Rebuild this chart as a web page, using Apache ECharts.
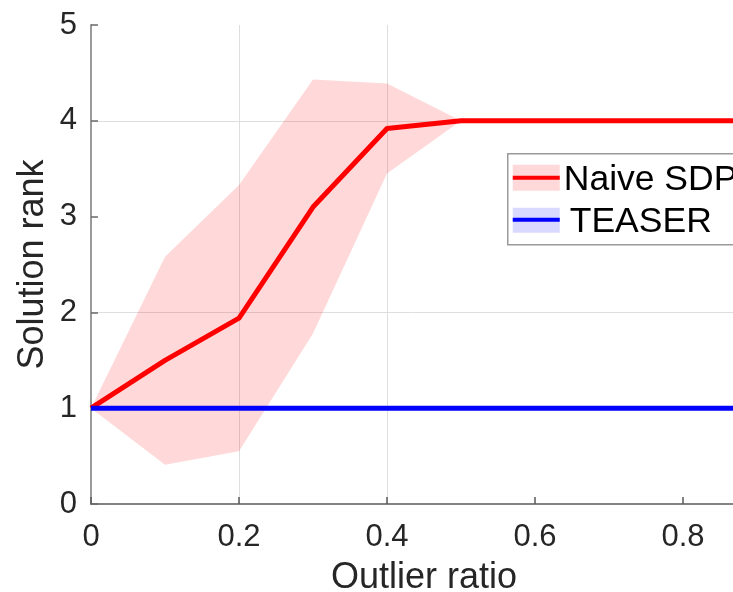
<!DOCTYPE html>
<html>
<head>
<meta charset="utf-8">
<script src="https://cdn.jsdelivr.net/npm/echarts@6/dist/echarts.min.js"></script>
<style>
  html, body { margin: 0; padding: 0; background: #fff; }
  #chart { width: 733px; height: 592px; }
</style>
</head>
<body>
<div id="chart"></div>
<script>
// Outlier ratio sampled every 0.1
const outlierRatios = [0, 0.1, 0.2, 0.3, 0.4, 0.5, 0.6, 0.7, 0.8, 0.9];
// Naive SDP: mean solution rank and its spread
const naiveMean  = [1, 1.5, 1.94, 3.1, 3.92, 4, 4, 4, 4, 4];
const naiveUpper = [1, 2.58, 3.33, 4.43, 4.39, 4, 4, 4, 4, 4];
const naiveLower = [1, 0.41, 0.55, 1.78, 3.45, 4, 4, 4, 4, 4];
// TEASER always returns a rank-1 solution
const teaserMean = [1, 1, 1, 1, 1, 1, 1, 1, 1, 1];
// Axis ticks, and the ticks that carry a grid line
const xTicks = [0, 0.2, 0.4, 0.6, 0.8];
const yTicks = [0, 1, 2, 3, 4, 5];
const xGridValues = [0.2, 0.4];
const yGridValues = [2, 4];
const legendNames = ['Naive SDP', 'TEASER'];

const FONT = '"Liberation Sans", Arial, Helvetica, sans-serif';
const TEXT = '#262626';
const GRID = '#dedede';
const NONE = 'rgba(0,0,0,0)';

const pairs = (ys) => outlierRatios.map((x, i) => [x, ys[i]]);
const bandRows = outlierRatios.map((x, i) => [x, naiveLower[i], naiveUpper[i]]);
const xGridColors = xTicks.map(v => (xGridValues.includes(v) ? GRID : NONE)).concat([NONE]);
const yGridColors = yTicks.map(v => (yGridValues.includes(v) ? GRID : NONE));

const chart = echarts.init(document.getElementById('chart'), null, { renderer: 'canvas' });

// Shaded spread: one polygon running along the upper bound and back along the lower bound
function renderBand(params, api) {
  if (params.dataIndex !== 0) return null;
  const top = bandRows.map(r => api.coord([r[0], r[2]]));
  const bottom = bandRows.map(r => api.coord([r[0], r[1]])).reverse();
  return {
    type: 'polygon',
    shape: { points: top.concat(bottom) },
    style: { fill: 'rgba(255,0,0,0.15)' }
  };
}

chart.setOption({
  animation: false,
  backgroundColor: '#ffffff',
  grid: { left: 91, top: 25, width: 666, bottom: 88, outerBoundsMode: 'none', containLabel: false },
  xAxis: {
    type: 'value',
    min: 0, max: 0.9, interval: 0.2,
    name: 'Outlier ratio',
    nameLocation: 'middle',
    nameGap: 56,
    nameTextStyle: { fontFamily: FONT, fontSize: 36, color: TEXT },
    axisLine: { show: true, lineStyle: { color: '#5a5a5a', width: 1.5 } },
    axisTick: { show: true, inside: true, length: 7, lineStyle: { color: '#5a5a5a', width: 1.5 } },
    axisLabel: { fontFamily: FONT, fontSize: 31, color: TEXT, margin: 18,
      formatter: v => (v === 0 ? '0' : String(Math.round(v * 10) / 10)) },
    splitLine: { show: true, lineStyle: { color: xGridColors, width: 1 } }
  },
  yAxis: {
    type: 'value',
    min: 0, max: 5, interval: 1,
    name: 'Solution rank',
    nameLocation: 'middle',
    nameGap: 40,
    nameMoveOverlap: false,
    nameTextStyle: { fontFamily: FONT, fontSize: 36, color: TEXT },
    axisLine: { show: true, lineStyle: { color: '#9a9a9a', width: 2 } },
    axisTick: { show: true, inside: true, length: 7, lineStyle: { color: '#6a6a6a', width: 1.5 } },
    axisLabel: { fontFamily: FONT, fontSize: 31, color: TEXT, margin: 14 },
    splitLine: { show: true, lineStyle: { color: yGridColors, width: 1 } }
  },
  series: [
    {
      name: 'naive-spread',
      type: 'custom',
      data: bandRows,
      encode: { x: 0, y: [1, 2] },
      renderItem: renderBand,
      silent: true,
      z: 2
    },
    {
      name: legendNames[0],
      type: 'line',
      data: pairs(naiveMean),
      symbol: 'none',
      lineStyle: { color: '#ff0000', width: 5, join: 'round' },
      z: 3
    },
    {
      name: legendNames[1],
      type: 'line',
      data: pairs(teaserMean),
      symbol: 'none',
      lineStyle: { color: '#0000ff', width: 5 },
      z: 4
    }
  ],
  graphic: [
    {
      type: 'group',
      left: 507, top: 153,
      z: 100,
      children: [
        { type: 'rect', shape: { x: 0, y: 0, width: 260, height: 91 },
          style: { fill: '#ffffff', stroke: '#9a9a9a', lineWidth: 1.5 } },
        { type: 'rect', shape: { x: 5, y: 11, width: 47, height: 26 },
          style: { fill: 'rgba(255,0,0,0.15)' } },
        { type: 'line', shape: { x1: 5, y1: 24, x2: 52, y2: 24 },
          style: { stroke: '#ff0000', lineWidth: 4 } },
        { type: 'text', x: 56, y: 26,
          style: { text: legendNames[0], fontFamily: FONT, fontSize: 35.5, fill: '#000000',
                   verticalAlign: 'middle', align: 'left' } },
        { type: 'rect', shape: { x: 5, y: 54, width: 47, height: 25 },
          style: { fill: 'rgba(0,0,255,0.15)' } },
        { type: 'line', shape: { x1: 5, y1: 66, x2: 52, y2: 66 },
          style: { stroke: '#0000ff', lineWidth: 4 } },
        { type: 'text', x: 62, y: 68,
          style: { text: legendNames[1], fontFamily: FONT, fontSize: 35.5, fill: '#000000',
                   verticalAlign: 'middle', align: 'left' } }
      ]
    }
  ]
});
</script>
</body>
</html>
